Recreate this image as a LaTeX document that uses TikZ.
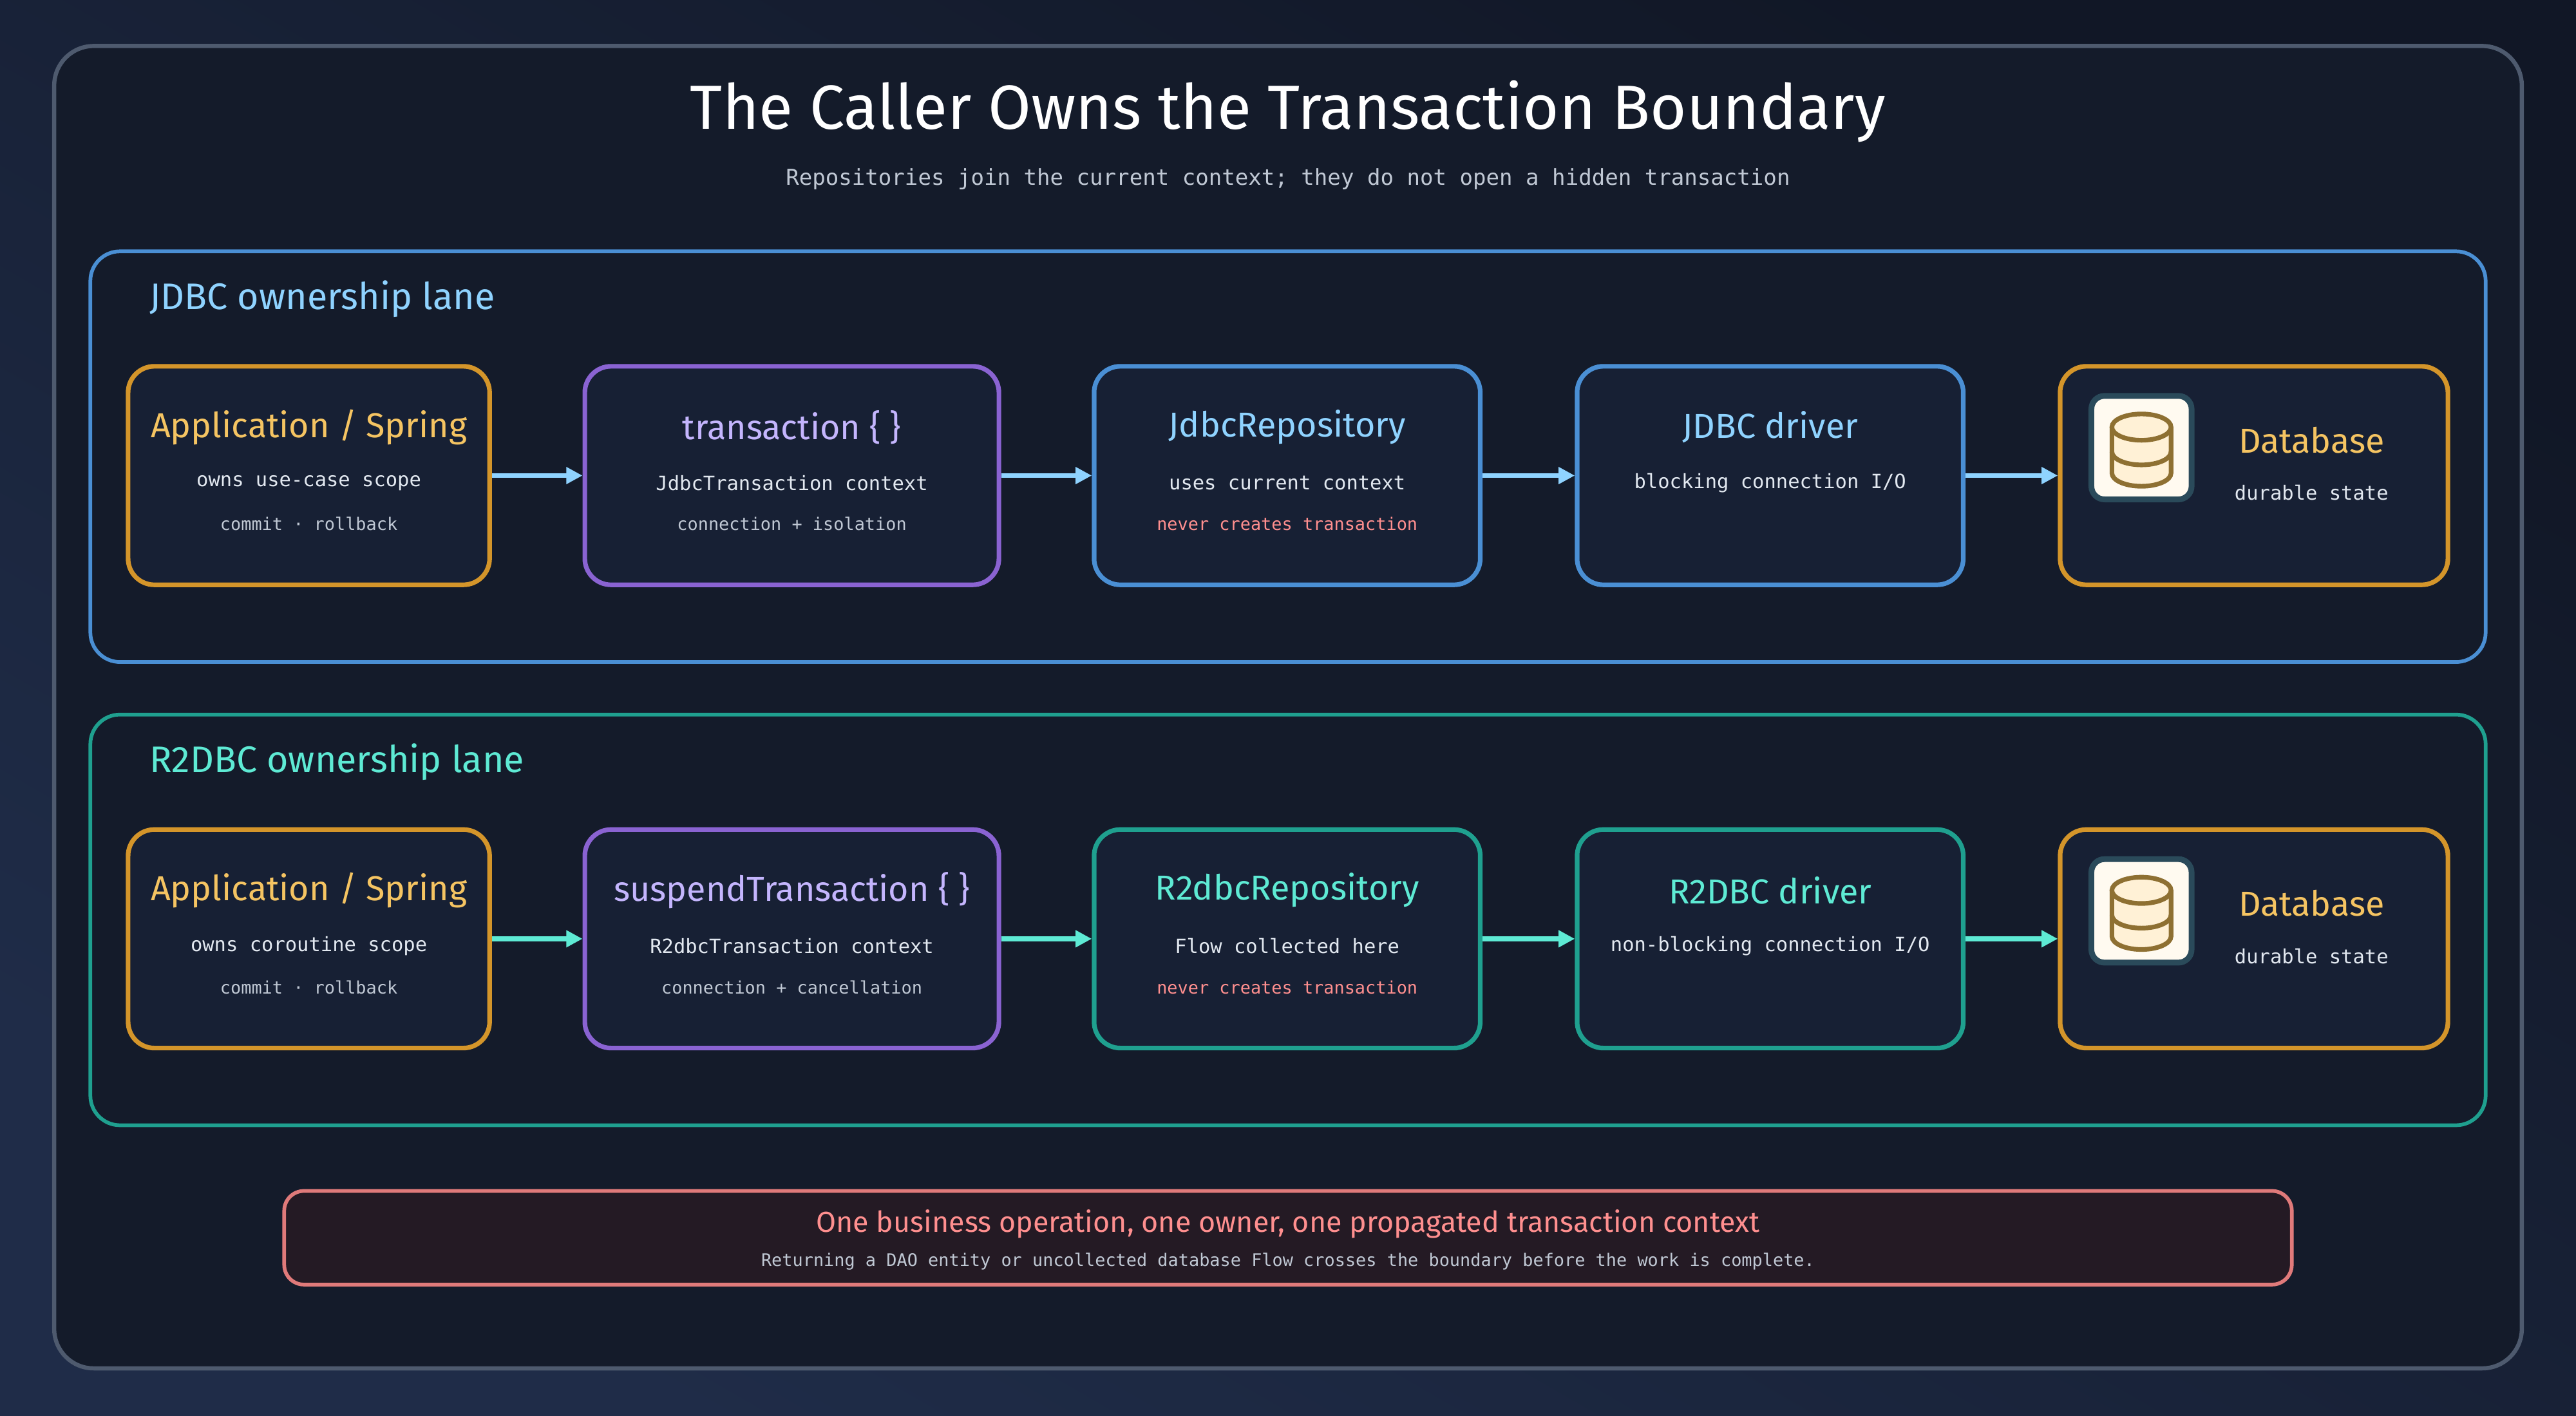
\documentclass[tikz,border=0pt]{standalone}
\usepackage{fontspec}
\setmainfont{Fira Sans}
\setmonofont{DejaVu Sans Mono}
\usetikzlibrary{arrows.meta}
\definecolor{bgA}{HTML}{111726}
\definecolor{bgB}{HTML}{1F2C48}
\definecolor{panel}{HTML}{141B2A}
\definecolor{boxfill}{HTML}{172034}
\definecolor{frame}{HTML}{4E5A6E}
\definecolor{orangeC}{HTML}{D4952A}
\definecolor{orangeT}{HTML}{F5C462}
\definecolor{purpleC}{HTML}{8A63D2}
\definecolor{purpleT}{HTML}{C4B5FD}
\definecolor{blueC}{HTML}{4A8FD4}
\definecolor{blueT}{HTML}{8FD3FF}
\definecolor{tealC}{HTML}{1FA08F}
\definecolor{tealT}{HTML}{5EEAD4}
\definecolor{redC}{HTML}{E07A7A}
\definecolor{redT}{HTML}{FF8F8F}
\definecolor{txt}{HTML}{E2E8F0}
\definecolor{muted}{HTML}{C0C8D4}
\definecolor{iconEdge}{HTML}{2A4A5A}
\definecolor{iconFill}{HTML}{FFFAF0}
\definecolor{dbFill}{HTML}{FFF1D6}
\definecolor{dbLine}{HTML}{8E7032}
\definecolor{noteFill}{HTML}{241A24}
\tikzset{
  box/.style={draw=#1, line width=2pt, rounded corners=0.4cm, fill=boxfill,
    minimum height=3.325cm, inner sep=0pt},
  ttl/.style={text=#1, font=\fontsize{15}{17}\selectfont},
  ln/.style={text=txt, font=\ttfamily\fontsize{8.5}{10}\selectfont},
  sm/.style={text=muted, font=\ttfamily\fontsize{7.5}{9}\selectfont},
  flow/.style={draw=#1, line width=2pt, -{Triangle[length=7pt,width=7pt]}},
  lane/.style={draw=#1, line width=1.6pt, rounded corners=0.45cm, fill=panel},
  cyl/.style={draw=dbLine, line width=2pt},
}
\begin{document}
\begin{tikzpicture}[x=0.025cm, y=-0.025cm]
    \shade[left color=bgA, right color=bgB, shading angle=-30] (0,0) rectangle (1568,862);
    \useasboundingbox (0,0) rectangle (1568,862);
    \draw[frame, line width=1.8pt, fill=panel, rounded corners=0.6cm] (33,28) rectangle (1535,833);

    \node[text=white, font=\fontsize{27}{30}\selectfont] (title) at (784,68) {The Caller Owns the Transaction Boundary};
    \node[text=muted, font=\ttfamily\fontsize{9.5}{11}\selectfont] (sub) at (784,109) {Repositories join the current context; they do not open a hidden transaction};

    % lanes
    \draw[lane=blueC] (55,153) rectangle (1513,403);
    \node[ttl=blueT, anchor=west, font=\fontsize{16}{18}\selectfont] (jdbclane) at (86,182) {JDBC ownership lane};
    \draw[lane=tealC] (55,435) rectangle (1513,685);
    \node[ttl=tealT, anchor=west, font=\fontsize{16}{18}\selectfont] (r2lane) at (86,464) {R2DBC ownership lane};

    % JDBC row
    \node[box=orangeC, minimum width=5.5cm] (app1) at (188,289.5) {};
    \node[box=purpleC, minimum width=6.3cm] (tx1) at (482,289.5) {};
    \node[box=blueC, minimum width=5.875cm] (repo1) at (783.5,289.5) {};
    \node[box=blueC, minimum width=5.875cm] (drv1) at (1077.5,289.5) {};
    \node[box=orangeC, minimum width=5.9cm] (db1) at (1372,289.5) {};

    \node[ttl=orangeT] at (188,260) {Application / Spring};
    \node[ln] at (188,294) {owns use-case scope};
    \node[sm] at (188,319) {commit · rollback};
    \node[ttl=purpleT] at (482,260) {transaction \{ \}};
    \node[ln] at (482,294) {JdbcTransaction context};
    \node[sm] at (482,319) {connection + isolation};
    \node[ttl=blueT] at (783.5,260) {JdbcRepository};
    \node[ln] at (783.5,294) {uses current context};
    \node[sm, text=redT] at (783.5,319) {never creates transaction};
    \node[ttl=blueT] at (1077.5,260) {JDBC driver};
    \node[ln] at (1077.5,294) {blocking connection I/O};

    % R2DBC row
    \node[box=orangeC, minimum width=5.5cm] (app2) at (188,571.5) {};
    \node[box=purpleC, minimum width=6.3cm] (tx2) at (482,571.5) {};
    \node[box=tealC, minimum width=5.875cm] (repo2) at (783.5,571.5) {};
    \node[box=tealC, minimum width=5.875cm] (drv2) at (1077.5,571.5) {};
    \node[box=orangeC, minimum width=5.9cm] (db2) at (1372,571.5) {};

    \node[ttl=orangeT] at (188,542) {Application / Spring};
    \node[ln] at (188,576) {owns coroutine scope};
    \node[sm] at (188,601) {commit · rollback};
    \node[ttl=purpleT] at (482,542) {suspendTransaction \{ \}};
    \node[ln] at (482,576) {R2dbcTransaction context};
    \node[sm] at (482,601) {connection + cancellation};
    \node[ttl=tealT] at (783.5,542) {R2dbcRepository};
    \node[ln] at (783.5,576) {Flow collected here};
    \node[sm, text=redT] at (783.5,601) {never creates transaction};
    \node[ttl=tealT] at (1077.5,542) {R2DBC driver};
    \node[ln] at (1077.5,576) {non-blocking connection I/O};

    % database icons
    \foreach \y/\n in {0/1,282/2} {
      \draw[draw=iconEdge, line width=2.5pt, fill=iconFill, rounded corners=0.2cm] (1273,241+\y) rectangle (1334,304+\y);
      \draw[cyl, fill=dbFill]
        (1285.5,260+\y) -- (1285.5,288+\y) arc[start angle=180, end angle=360, x radius=0.45cm, y radius=0.2cm] -- (1321.5,260+\y);
      \draw[cyl] (1285.5,275+\y) arc[start angle=180, end angle=360, x radius=0.45cm, y radius=0.2cm];
      \draw[cyl, fill=dbFill] (1303.5,260+\y) ellipse[x radius=0.45cm, y radius=0.2cm];
      \node[ttl=orangeT] (dbt\n) at (1407,268+\y) {Database};
      \node[ln] (dbs\n) at (1407,300+\y) {durable state};
    }

    % connectors
    \draw[flow=blueT] (app1) -- (tx1);
    \draw[flow=blueT] (tx1) -- (repo1);
    \draw[flow=blueT] (repo1) -- (drv1);
    \draw[flow=blueT] (drv1) -- (db1);
    \draw[flow=tealT] (app2) -- (tx2);
    \draw[flow=tealT] (tx2) -- (repo2);
    \draw[flow=tealT] (repo2) -- (drv2);
    \draw[flow=tealT] (drv2) -- (db2);

    % bottom note
    \draw[draw=redC, line width=1.6pt, fill=noteFill, rounded corners=0.3cm] (173,725) rectangle (1395,782);
    \node[text=redT, font=\fontsize{12.5}{14}\selectfont] (note) at (784,745) {One business operation, one owner, one propagated transaction context};
    \node[sm] (notesub) at (784,768) {Returning a DAO entity or uncollected database Flow crosses the boundary before the work is complete.};
\end{tikzpicture}
\end{document}
